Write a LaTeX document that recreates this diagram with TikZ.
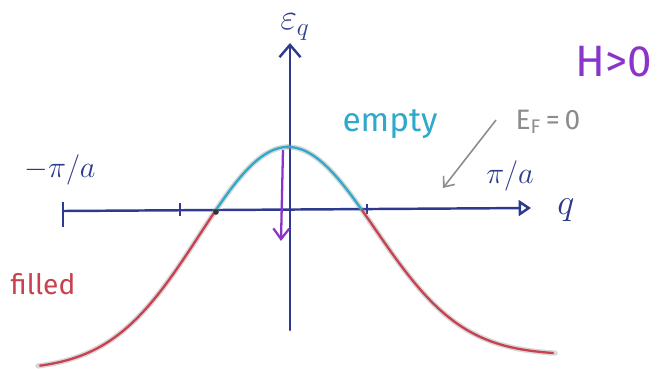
\documentclass[tikz,border=0pt]{standalone}
\usepackage{fontspec}
\setmainfont{Fira Sans}
\usetikzlibrary{arrows.meta}
\definecolor{axisblue}{HTML}{2E3A8E}
\definecolor{bandcyan}{HTML}{2EA9CC}
\definecolor{bandred}{HTML}{C9404F}
\definecolor{hpurple}{HTML}{8A35C9}
\definecolor{sketchgray}{HTML}{8C8C8C}
\begin{document}
\begin{tikzpicture}[x=0.02cm,y=-0.02cm,
  axisline/.style={draw=axisblue,line width=1.4pt,line cap=round},
  tickline/.style={draw=axisblue,line width=0.8pt},
  shade/.style={draw=sketchgray,line width=3pt,opacity=0.35,line cap=round},
  bandline/.style={line width=1.3pt,line cap=round},
  lbl/.style={inner sep=0pt}]
\useasboundingbox (0,0) rectangle (657,369);
% axes
\coordinate (xl) at (63,211);
\coordinate (xr) at (531,208);
\coordinate (yb) at (290,330);
\coordinate (yt) at (290,43);
\draw[axisline,-{Triangle[open,length=7pt,width=9pt]}] (xl) -- (xr);
\draw[axisline,-{Straight Barb[length=7pt,width=12pt]}] (yb) -- (yt);
% ticks
\draw[tickline,line width=1.2pt] (63,202) -- (63,227);
\draw[tickline] (180,203) -- (180,216);
\draw[tickline] (367,204) -- (367,214);
% gray underlay of the band
\draw[shade] plot[domain=38:288,samples=80,smooth] (\x,{370-223*exp(-((\x-288)/125)*((\x-288)/125))});
\draw[shade] plot[domain=288:555,samples=80,smooth] (\x,{355-208*exp(-((\x-288)/123)*((\x-288)/123))});
% band
\draw[bandline,bandred] plot[domain=40:217,samples=60,smooth] (\x,{370-223*exp(-((\x-288)/125)*((\x-288)/125))});
\draw[bandline,bandcyan] plot[domain=217:288,samples=30,smooth] (\x,{370-223*exp(-((\x-288)/125)*((\x-288)/125))});
\draw[bandline,bandcyan] plot[domain=288:362,samples=30,smooth] (\x,{355-208*exp(-((\x-288)/123)*((\x-288)/123))});
\draw[bandline,bandred] plot[domain=362:553,samples=60,smooth] (\x,{355-208*exp(-((\x-288)/123)*((\x-288)/123))});
\fill[black!80] (216,212) circle (1.6pt);
% purple arrow
\coordinate (pa) at (283,150);
\coordinate (pb) at (281,241);
\draw[hpurple,line width=1.3pt,-{Straight Barb[length=6pt,width=9pt]}] (pa) -- (pb);
% labels
\node[lbl,text=axisblue] (eq) at (295,27) {\fontsize{22}{22}\selectfont$\varepsilon_q$};
\node[lbl,text=axisblue] (mpa) at (60,170) {\fontsize{17}{17}\selectfont$-\pi/a$};
\node[lbl,text=axisblue] (ppa) at (510,176) {\fontsize{16}{16}\selectfont$\pi/a$};
\node[lbl,text=axisblue] (q) at (566,210) {\fontsize{22}{22}\selectfont$q$};
\node[lbl,text=bandcyan] (empty) at (390,124) {\fontsize{19}{19}\selectfont empty};
\node[lbl,text=bandred] (filled) at (43,284) {\fontsize{16}{16}\selectfont filled};
\node[lbl,text=sketchgray] (ef) at (548,122) {\fontsize{16}{16}\selectfont E\textsubscript{F}\,=\,0};
\node[lbl,text=hpurple] (h) at (614,62) {\fontsize{25}{25}\selectfont H>0};
% gray arrow
\coordinate (ga) at (496,120);
\coordinate (gb) at (443,188);
\draw[sketchgray,line width=0.9pt,-{Straight Barb[length=5pt,width=8pt]}] (ga) -- (gb);
\end{tikzpicture}
\end{document}
